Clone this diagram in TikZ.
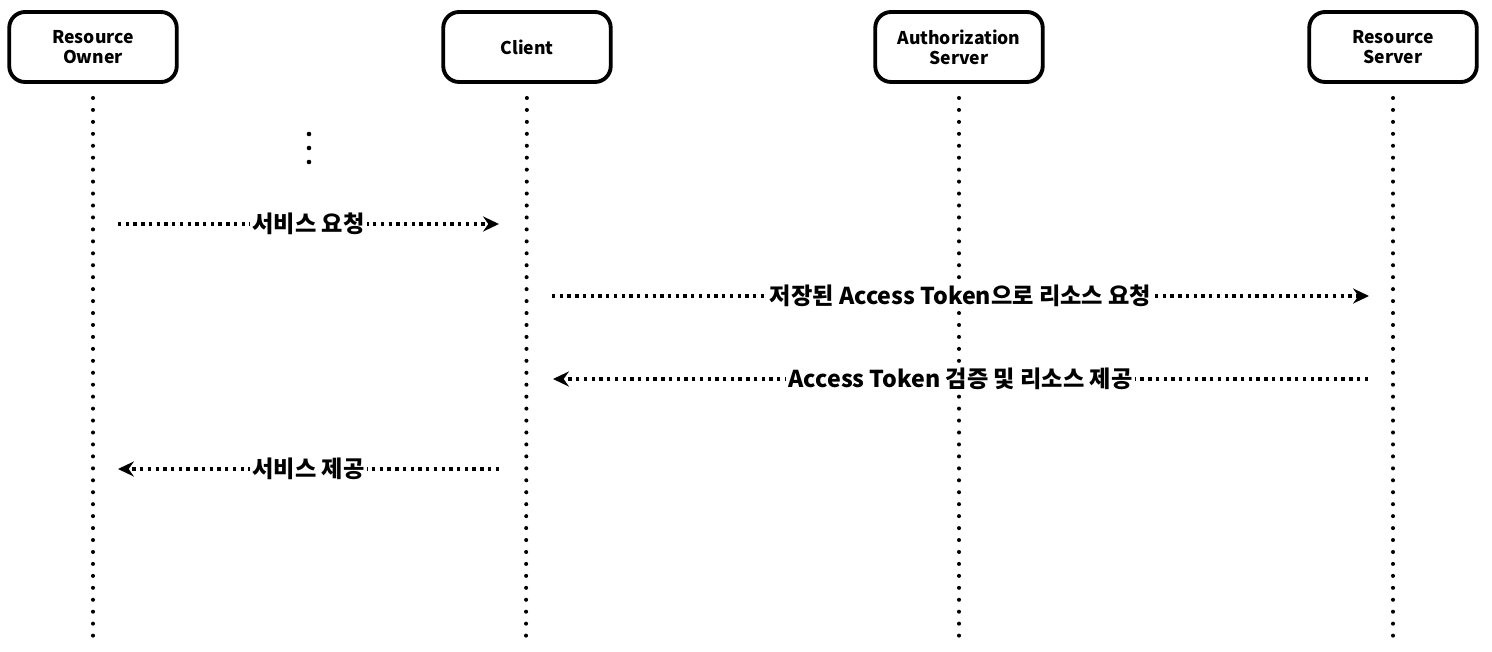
\documentclass[tikz,border=0pt]{standalone}
\usepackage{fontspec}
\setmainfont{Noto Sans CJK KR}
\usetikzlibrary{arrows.meta}

\begin{document}
\begin{tikzpicture}[x=0.02cm, y=-0.02cm,
	actor/.style = {draw, line width=2.2pt, rounded corners=9pt,
		minimum width=3.35cm, minimum height=1.4cm, align=center,
		font=\bfseries\fontsize{10}{11.5}\selectfont},
	life/.style = {line width=2.3pt, line cap=round, dash pattern=on 0pt off 6.8pt, shorten <=8pt},
	msg/.style = {line width=2pt, dash pattern=on 1.9pt off 2.5pt,
		-{Stealth[length=9pt,width=8.5pt]}},
	lbl/.style = {fill=white, inner sep=1.5pt, font=\bfseries\fontsize{13.2}{15}\selectfont}]
	
	\useasboundingbox (0,0) rectangle (1492,652);
	
	% participants
	\node[actor] (ro) at (93,47) {Resource\\Owner};
	\node[actor] (cl) at (527,47) {Client};
	\node[actor] (as) at (959,47) {Authorization\\Server};
	\node[actor] (rs) at (1393,47) {Resource\\Server};
	
	% lifelines
	\coordinate (ro-end) at (93,645);
	\coordinate (cl-end) at (526,645);
	\coordinate (as-end) at (959,645);
	\coordinate (rs-end) at (1393,645);
	\foreach \p in {ro,cl,as,rs}
	\draw[life] (\p) -- (\p-end);
	
	\foreach \y in {134,148,162}
	\fill (309,\y) circle (1.3pt);
	
	% messages
	\coordinate (m1s) at (118,224);  \coordinate (m1e) at (499,224);
	\coordinate (m2s) at (552,296);  \coordinate (m2e) at (1369,296);
	\coordinate (m3s) at (1368,379); \coordinate (m3e) at (553,379);
	\coordinate (m4s) at (499,469);  \coordinate (m4e) at (118,469);
	
	\draw[msg] (m1s) -- node[lbl] {서비스 요청} (m1e);
	\draw[msg] (m2s) -- node[lbl] {저장된 Access Token으로 리소스 요청} (m2e);
	\draw[msg] (m3s) -- node[lbl] {Access Token 검증 및 리소스 제공} (m3e);
	\draw[msg] (m4s) -- node[lbl] {서비스 제공} (m4e);
\end{tikzpicture}
\end{document}
